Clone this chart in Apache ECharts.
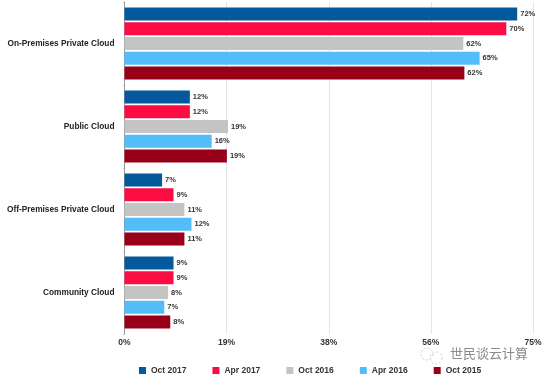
<!DOCTYPE html>
<html><head><meta charset="utf-8">
<style>html,body{margin:0;padding:0;background:#fff}#c{width:545px;height:380px}</style>
<script src="https://cdn.jsdelivr.net/npm/echarts@6/dist/echarts.min.js"></script>
</head><body><div id="c"></div>
<script>
const categories = ['On-Premises Private Cloud','Public Cloud','Off-Premises Private Cloud','Community Cloud'];
const seriesNames = ['Oct 2017','Apr 2017','Oct 2016','Apr 2016','Oct 2015'];
const colors = ['#04599c','#fb0d44','#c4c4c4','#53bdf9','#970018'];
const oct2017 = [72.1,12.0,6.9,9.0];
const apr2017 = [70.1,12.0,9.0,9.0];
const oct2016 = [62.2,19.0,11.0,8.0];
const apr2016 = [65.2,16.0,12.3,7.3];
const oct2015 = [62.4,18.8,11.0,8.4];
const values = [oct2017,apr2017,oct2016,apr2016,oct2015];
const axisMax = 75, axisStep = 18.75;
const font = '"Liberation Sans", Arial, sans-serif';

const chart = echarts.init(document.getElementById('c'), null, {renderer:'canvas'});
chart.setOption({
  animation:false,
  backgroundColor:'#fff',
  grid:{left:124.5,right:12,top:2,bottom:46,containLabel:false},
  xAxis:{type:'value',min:0,max:axisMax,interval:axisStep,
    axisLine:{show:false},axisTick:{show:false},
    splitLine:{show:true,lineStyle:{color:'#e4e4e4',width:1}},
    axisLabel:{formatter:v=>Math.round(v)+'%',color:'#333',fontFamily:font,fontSize:8.5,fontWeight:'bold',margin:4,
      alignMinLabel:'center',alignMaxLabel:'center'}},
  yAxis:{type:'category',inverse:true,data:categories,
    axisLine:{show:true,lineStyle:{color:'#9a9a9a',width:1}},
    axisTick:{show:true,length:1,lineStyle:{color:'#9a9a9a'}},
    axisLabel:{color:'#222',fontFamily:font,fontSize:8.3,fontWeight:'bold',margin:10}},
  legend:{bottom:0,left:134,itemWidth:7,itemHeight:7,itemGap:26,icon:'rect',
    data:seriesNames,
    textStyle:{color:'#333',fontFamily:font,fontSize:8.5,fontWeight:'bold',padding:[0,0,0,0]}},
  series:seriesNames.map((n,i)=>({
    name:n,type:'bar',data:values[i],barWidth:13,barGap:'13%',
    itemStyle:{color:colors[i]},
    label:{show:true,position:'right',distance:3,formatter:p=>Math.round(p.value)+'%',
      color:'#333',fontFamily:font,fontSize:7.5,fontWeight:'bold'}
  })),
  graphic:[
    {type:'text',left:450,top:347,style:{text:'世民谈云计算',fill:'#8a8a8a',font:'13px "Noto Sans CJK SC"'}},
    {type:'circle',shape:{cx:427,cy:354,r:6},style:{fill:'none',stroke:'#cfcfcf',lineWidth:1,lineDash:[2,2]}},
    {type:'circle',shape:{cx:436,cy:358,r:6},style:{fill:'none',stroke:'#cfcfcf',lineWidth:1,lineDash:[2,2]}}
  ]
});
</script></body></html>
